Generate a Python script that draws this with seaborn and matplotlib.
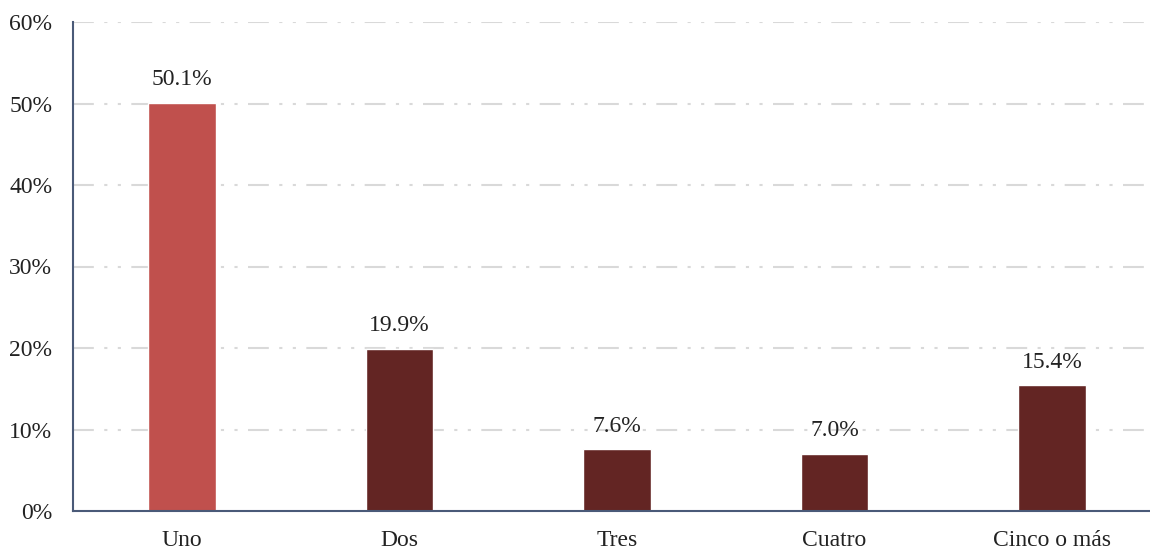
import matplotlib
matplotlib.use("Agg")
import matplotlib.pyplot as plt
import seaborn as sns
import pandas as pd

categories = ["Uno", "Dos", "Tres", "Cuatro", "Cinco o más"]
values = [50.1, 19.9, 7.6, 7.0, 15.4]
bar_colors = ["#C0504D", "#632523", "#632523", "#632523", "#632523"]
yticks = [0, 10, 20, 30, 40, 50, 60]

sns.set_theme(style="white")
plt.rcParams['font.family'] = ['Liberation Serif', 'DejaVu Serif']

df = pd.DataFrame({"cat": categories, "val": values})

fig = plt.figure(figsize=(11.5, 5.5), dpi=100)
ax = fig.add_axes([73/1150, 1-511/550, 1-73/1150, (511-22)/550])

sns.barplot(data=df, x="cat", y="val", hue="cat", palette=bar_colors,
            width=0.31, legend=False, ax=ax, saturation=1, zorder=3)

ax.set_ylim(0, 60)
ax.set_xlim(-0.5, 4.45)
ax.set_yticks(yticks)
ax.set_yticklabels([f"{t}%" for t in yticks], fontsize=17)
ax.tick_params(axis='x', labelsize=17, pad=14, length=0)
ax.tick_params(axis='y', length=0, pad=15)
ax.set_xlabel("")
ax.set_ylabel("")

for t in yticks[1:]:
    ax.axhline(t, color="#d9d9d9", lw=1.5, dashes=(10, 5, 1.5, 5, 1.5, 5), zorder=1)

for i, v in enumerate(values):
    ax.annotate(f"{v:.1f}%", (i, v), xytext=(0, 9), textcoords="offset points",
                ha="center", va="bottom", fontsize=17, color="#222222")

for s in ["top", "right"]:
    ax.spines[s].set_visible(False)
for s in ["left", "bottom"]:
    ax.spines[s].set_color("#4a5a78")
    ax.spines[s].set_linewidth(1.5)
    ax.spines[s].set_zorder(4)

for lbl in ax.get_xticklabels() + ax.get_yticklabels():
    lbl.set_color("#222222")

fig.savefig("out.png", dpi=100)
